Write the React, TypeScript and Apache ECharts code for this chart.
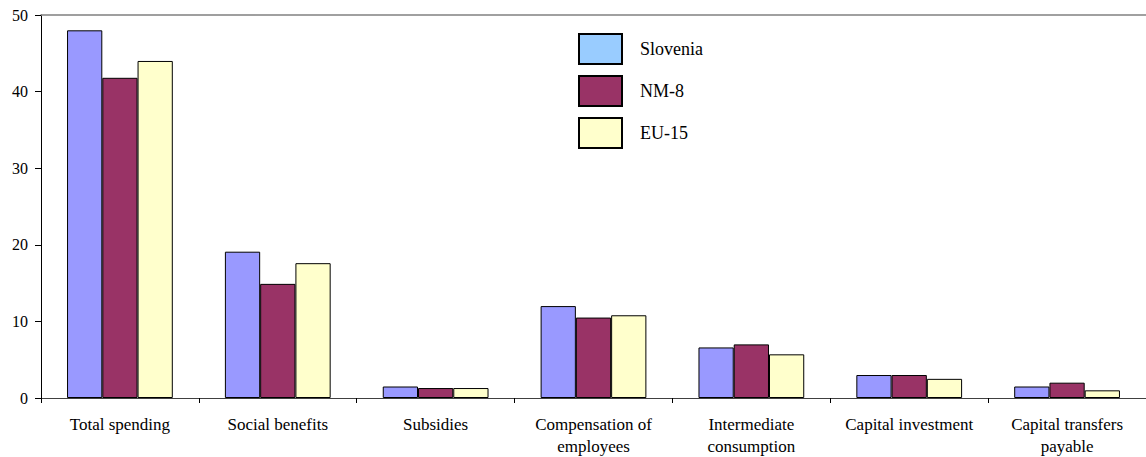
import React, { useEffect, useRef } from "react";
import * as echarts from "echarts";

const categories = [
  "Total spending",
  "Social benefits",
  "Subsidies",
  "Compensation of\nemployees",
  "Intermediate\nconsumption",
  "Capital investment",
  "Capital transfers\npayable",
];
const slovenia = [48.0, 19.1, 1.5, 12.0, 6.6, 3.0, 1.5];
const nm8 = [41.8, 14.9, 1.3, 10.5, 7.0, 3.0, 2.0];
const eu15 = [44.0, 17.6, 1.3, 10.8, 5.7, 2.5, 1.0];
const yTicks = [0, 10, 20, 30, 40, 50];

const FONT = "'Liberation Serif', 'Times New Roman', serif";

export default function App() {
  const ref = useRef<HTMLDivElement>(null);

  useEffect(() => {
    if (!ref.current) return;
    const chart = echarts.init(ref.current, undefined, { renderer: "svg" });
    const bar = (name: string, data: number[], color: string) => ({
      name,
      type: "bar",
      data,
      barGap: "0%",
      barCategoryGap: "33%",
      itemStyle: { color, borderColor: "#000", borderWidth: 1 },
    });
    chart.setOption({
      animation: false,
      backgroundColor: "#fff",
      textStyle: { fontFamily: FONT },
      grid: { left: 41, right: 0, top: 15, bottom: 56, containLabel: false },
      legend: {
        orient: "vertical",
        left: 578,
        top: 33,
        padding: 0,
        itemWidth: 43,
        itemHeight: 30,
        itemGap: 10,
        icon: "rect",
        data: [
          { name: "Slovenia", itemStyle: { color: "#99CCFF" } },
          { name: "NM-8" },
          { name: "EU-15" },
        ],
        textStyle: {
          fontFamily: FONT,
          fontSize: 18,
          color: "#000",
          padding: [0, 0, 0, 13],
        },
      },
      xAxis: [
        {
          type: "category",
          data: categories,
          axisLine: { lineStyle: { color: "#404040", width: 1 } },
          axisTick: { show: true, length: 5, lineStyle: { color: "#000" } },
          axisLabel: {
            fontFamily: FONT,
            fontSize: 17,
            color: "#000",
            margin: 15,
            lineHeight: 22,
            interval: 0,
          },
        },
        {
          type: "category",
          data: categories,
          position: "top",
          axisLine: { lineStyle: { color: "#808080", width: 1.5 } },
          axisTick: { show: false },
          axisLabel: { show: false },
        },
      ],
      yAxis: {
        type: "value",
        min: 0,
        max: 50,
        interval: 10,
        axisLine: { show: true, lineStyle: { color: "#000", width: 1 } },
        axisTick: { show: true, length: 6, lineStyle: { color: "#000" } },
        splitLine: { show: false },
        axisLabel: {
          fontFamily: FONT,
          fontSize: 16,
          color: "#000",
          margin: 13,
          formatter: (v: number) => (yTicks.includes(v) ? String(v) : ""),
        },
      },
      series: [
        bar("Slovenia", slovenia, "#9999FF"),
        bar("NM-8", nm8, "#993366"),
        bar("EU-15", eu15, "#FFFFCC"),
      ],
    });
    return () => chart.dispose();
  }, []);

  return (
    <div
      ref={ref}
      style={{ position: "fixed", left: 0, top: 0, width: 1146, height: 457 }}
    />
  );
}
